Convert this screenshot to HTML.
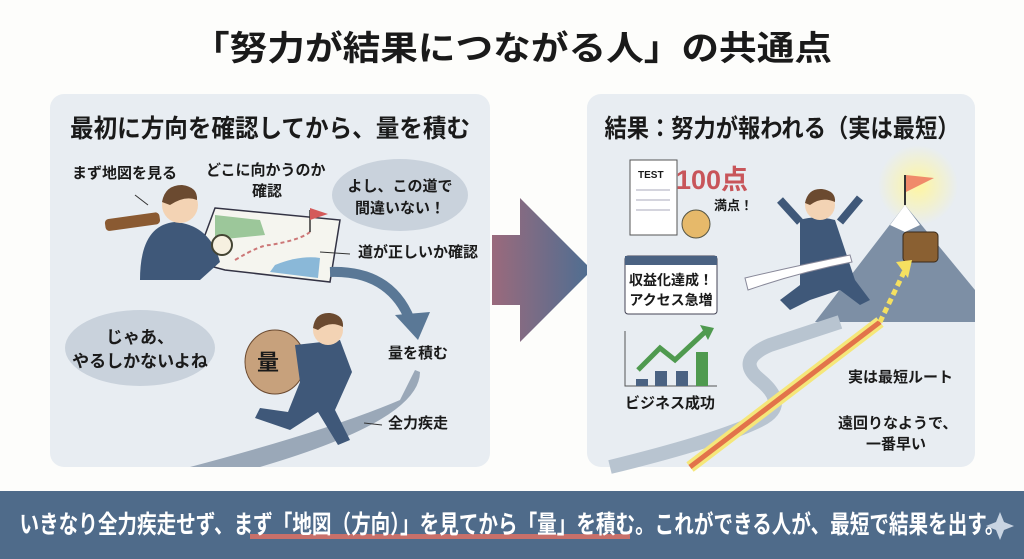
<!DOCTYPE html>
<html><head><meta charset="utf-8"><style>
body{margin:0;width:1024px;height:559px;overflow:hidden;background:#fdfdfb}
svg{display:block}
text{font-family:"Liberation Sans","Noto Sans CJK JP",sans-serif;font-weight:bold;fill:#1a1a1a}
</style></head><body>
<svg width="1024" height="559" viewBox="0 0 1024 559">
<defs>
<linearGradient id="ag" x1="0" x2="1"><stop offset="0" stop-color="#9a6a7c"/><stop offset="1" stop-color="#4d6e92"/></linearGradient>
<radialGradient id="glow"><stop offset="0" stop-color="#fff6a0"/><stop offset="1" stop-color="#fff6a0" stop-opacity="0"/></radialGradient>
</defs>
<text x="512" y="60" text-anchor="middle" font-size="34" textLength="640" lengthAdjust="spacingAndGlyphs">「努力が結果につながる人」の共通点</text>
<rect x="50" y="94" width="440" height="373" rx="14" fill="#e8edf2"/>
<text x="270" y="137" text-anchor="middle" font-size="25" textLength="400" lengthAdjust="spacingAndGlyphs">最初に方向を確認してから、量を積む</text>
<text x="72" y="178" font-size="15">まず地図を見る</text>
<text x="206" y="175" font-size="15">どこに向かうのか</text>
<text x="252" y="196" font-size="15">確認</text>
<line x1="135" y1="195" x2="148" y2="205" stroke="#333"/>
<ellipse cx="400" cy="195" rx="68" ry="36" fill="#c9d2dc"/>
<text x="400" y="191" text-anchor="middle" font-size="15">よし、この道で</text>
<text x="400" y="213" text-anchor="middle" font-size="15">間違いない！</text>
<polygon points="215,208 340,220 330,282 225,270 195,262" fill="#f5f5ef" stroke="#334" stroke-width="1.5"/>
<path d="M215,215 L260,220 L265,235 L215,240Z" fill="#9cc79a"/>
<path d="M275,265 Q300,255 320,258 L318,278 L270,272Z" fill="#8ab8d8"/>
<path d="M235,260 Q260,245 270,245 Q300,240 310,232" stroke="#c77" stroke-dasharray="4 3" fill="none" stroke-width="2"/>
<line x1="310" y1="232" x2="310" y2="210" stroke="#333" stroke-width="1.5"/><polygon points="310,208 328,214 310,220" fill="#d45a5a"/>
<path d="M140,280 Q140,225 175,222 Q210,225 220,262 L200,280Z" fill="#3f5879"/>
<circle cx="180" cy="205" r="18" fill="#f3d3b4"/><path d="M162,202 Q165,185 182,185 Q198,187 197,200 Q185,195 170,205Z" fill="#6b4a30"/>
<rect x="105" y="216" width="55" height="12" rx="4" fill="#8a5a32" transform="rotate(-8 130 222)"/>
<circle cx="222" cy="245" r="10" fill="#f6f0e0" stroke="#443" stroke-width="2"/>
<text x="358" y="257" font-size="15">道が正しいか確認</text>
<line x1="320" y1="252" x2="350" y2="254" stroke="#333"/>
<path d="M330,272 Q390,270 410,320" stroke="#5a7896" stroke-width="10" fill="none"/>
<polygon points="395,315 430,312 418,340" fill="#5a7896"/>
<text x="388" y="358" font-size="15">量を積む</text>
<ellipse cx="140" cy="348" rx="75" ry="38" fill="#c9d2dc"/>
<text x="140" y="343" text-anchor="middle" font-size="17">じゃあ、</text>
<text x="140" y="367" text-anchor="middle" font-size="17">やるしかないよね</text>
<path d="M190,467 Q330,430 400,400 Q410,380 415,370 L420,372 Q420,420 260,467Z" fill="#9aa8b8"/>
<ellipse cx="275" cy="362" rx="30" ry="32" fill="#c7a17c" stroke="#6b4a30"/>
<text x="257" y="370" font-size="22">量</text>
<path d="M295,345 L340,340 L352,372 L335,410 L350,440 L338,445 L318,412 L290,430 L255,418 L260,408 L288,412 L300,382Z" fill="#3f5879"/>
<circle cx="328" cy="330" r="15" fill="#f3d3b4"/><path d="M313,328 Q315,312 330,313 Q344,315 343,327 Q330,320 318,330Z" fill="#6b4a30"/>
<text x="388" y="428" font-size="15">全力疾走</text>
<line x1="364" y1="423" x2="382" y2="425" stroke="#333"/>
<polygon points="492,235 520,235 520,198 592,270 520,342 520,305 492,305" fill="url(#ag)"/>
<rect x="587" y="94" width="388" height="373" rx="14" fill="#e8edf2"/>
<text x="782" y="137" text-anchor="middle" font-size="25" textLength="355" lengthAdjust="spacingAndGlyphs">結果：努力が報われる（実は最短）</text>
<rect x="630" y="160" width="47" height="75" fill="#fff" stroke="#555"/>
<text x="638" y="178" font-size="10" fill="#444">TEST</text>
<g stroke="#aab"><line x1="636" y1="190" x2="670" y2="190"/><line x1="636" y1="200" x2="670" y2="200"/><line x1="636" y1="210" x2="670" y2="210"/></g>
<text x="676" y="189" font-size="27" style="fill:#c8555a">100点</text>
<text x="714" y="210" font-size="13">満点！</text>
<circle cx="696" cy="224" r="14" fill="#e6b96a" stroke="#554"/>
<rect x="625" y="256" width="92" height="58" rx="3" fill="#fff" stroke="#445"/>
<rect x="625" y="256" width="92" height="9" fill="#4a6282"/>
<text x="671" y="285" text-anchor="middle" font-size="14">収益化達成！</text>
<text x="671" y="305" text-anchor="middle" font-size="14">アクセス急増</text>
<polyline points="625,331 625,386 717,386" fill="none" stroke="#555"/>
<rect x="636" y="379" width="12" height="7" fill="#4a6282"/><rect x="655" y="371" width="12" height="15" fill="#4a6282"/><rect x="676" y="371" width="12" height="15" fill="#4a6282"/><rect x="696" y="352" width="12" height="34" fill="#4f9a4f"/>
<polyline points="638,370 660,348 675,360 705,332" fill="none" stroke="#4f9a4f" stroke-width="5"/>
<polygon points="700,325 714,328 708,340" fill="#4f9a4f"/>
<text x="625" y="408" font-size="15">ビジネス成功</text>
<circle cx="918" cy="185" r="40" fill="url(#glow)"/>
<polygon points="815,322 905,205 975,290 975,322" fill="#7d8fa5"/>
<polygon points="890,225 905,205 920,225 905,232" fill="#fff"/>
<line x1="905" y1="205" x2="905" y2="175" stroke="#333" stroke-width="2"/><polygon points="906,175 934,178 906,192" fill="#f08a6a"/>
<rect x="903" y="232" width="35" height="30" rx="4" fill="#8a6032" stroke="#3a2a1a"/>
<path d="M610,467 Q720,440 760,420 Q790,405 760,380 Q735,360 770,345 Q800,335 840,322" stroke="#b8c4d0" stroke-width="14" fill="none"/>
<path d="M690,467 L880,322" stroke="#f5e77a" stroke-width="12"/>
<path d="M690,467 L880,322" stroke="#e2734a" stroke-width="5"/>
<path d="M880,322 L905,270" stroke="#f5e060" stroke-width="5" stroke-dasharray="6 4"/>
<polygon points="896,262 912,260 908,278" fill="#f5e060"/>
<path d="M800,220 Q815,215 835,220 L855,280 L870,300 L860,305 L840,290 L810,300 L790,310 L780,300 L800,285Z" fill="#3f5879"/>
<circle cx="820" cy="205" r="15" fill="#f3d3b4"/><path d="M805,203 Q808,188 822,189 Q836,191 835,202 Q822,196 810,205Z" fill="#6b4a30"/>
<line x1="800" y1="222" x2="780" y2="200" stroke="#3f5879" stroke-width="8"/><line x1="840" y1="222" x2="860" y2="198" stroke="#3f5879" stroke-width="8"/>
<path d="M745,278 Q800,265 850,255 L852,262 Q800,272 748,290Z" fill="#fff" stroke="#889"/>
<text x="848" y="382" font-size="15">実は最短ルート</text>
<text x="838" y="428" font-size="15">遠回りなようで、</text>
<text x="866" y="449" font-size="15">一番早い</text>
<rect x="0" y="491" width="1024" height="68" fill="#4f6b8a"/>
<rect x="250" y="534" width="380" height="5" fill="#c8706a"/>
<text x="512" y="533" text-anchor="middle" font-size="25" style="fill:#fff" textLength="985" lengthAdjust="spacingAndGlyphs">いきなり全力疾走せず、まず「地図（方向）」を見てから「量」を積む。これができる人が、最短で結果を出す。</text>
<polygon points="1000,512 1004,522 1014,526 1004,530 1000,540 996,530 986,526 996,522" fill="#c8d4e2"/>
</svg>
</body></html>
